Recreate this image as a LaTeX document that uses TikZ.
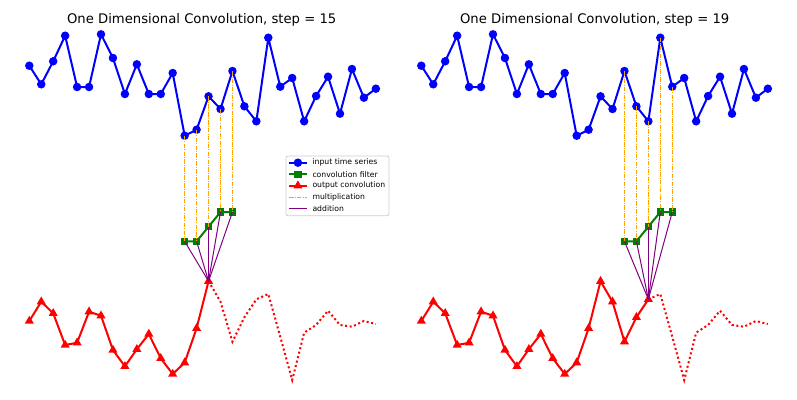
\documentclass[tikz,border=0pt]{standalone}
\usepackage{fontspec}
\setmainfont{DejaVu Sans}
\usetikzlibrary{shapes.geometric}
\definecolor{mblue}{HTML}{0000FF}
\definecolor{mgreen}{HTML}{008000}
\definecolor{mred}{HTML}{FF0000}
\definecolor{morange}{HTML}{FFA500}
\definecolor{mpurple}{HTML}{800080}
\definecolor{legframe}{HTML}{CCCCCC}
\tikzset{
  bluel/.style={draw=mblue,line width=2pt,line join=round},
  greenl/.style={draw=mgreen,line width=2pt,line join=round},
  redl/.style={draw=mred,line width=2pt,line join=round},
  redd/.style={draw=mred,line width=2pt,dash pattern=on 2pt off 2.6pt},
  orl/.style={draw=morange,line width=1pt,dash pattern=on 4.5pt off 1.2pt on 1pt off 1.2pt},
  pul/.style={draw=mpurple,line width=1pt},
  bdot/.style={circle,fill=mblue,inner sep=0pt,minimum size=8.5pt},
  gsq/.style={rectangle,fill=mgreen,inner sep=0pt,minimum size=7.5pt},
  rtri/.style={regular polygon,regular polygon sides=3,fill=mred,inner sep=0pt,minimum size=10.5pt},
  ttl/.style={font=\fontsize{13.2}{15}\selectfont,anchor=base},
  legt/.style={font=\fontsize{7.7}{9}\selectfont,anchor=west,inner sep=0pt},
}
\def\blueY{65.7,84.3,61.3,35.7,87,87,34.3,58,94,64.3,94,94,73,135.7,129.7,96.3,109,71,106.3,121.3,37.7,86.7,78,121.3,96,76.7,113.7,69,97.7,88.7}
\def\redY{321,301.7,313.3,345,342.7,311.7,315.7,350,366.3,349.3,334,358.3,374,362.7,328.3,281.2,301.7,341.7,317.3,299.3,294,336.7,380,332.7,325,310.7,325,326.7,321,324}
\def\filtY{241.3,241.3,226.7,212,212}
\newcommand\drawpanel[3]{%
  \pgfmathtruncatemacro\sA{#3-2}%
  \pgfmathtruncatemacro\sB{#3+1}%
  \foreach \yy [count=\i from 0] in \blueY {\coordinate (#1b\i) at ({#2+11.95*\i},\yy);}
  \foreach \yy [count=\i from 0] in \redY {\coordinate (#1r\i) at ({#2+11.95*\i},\yy);}
  \foreach \yy [count=\k from 0] in \filtY {\pgfmathtruncatemacro\j{\sA+\k}\coordinate (#1f\k) at ({#2+11.95*\j},\yy);}
  \draw[bluel] (#1b0) \foreach \i in {1,...,29}{-- (#1b\i)};
  \foreach \i in {0,...,29} \node[bdot] (#1bm\i) at (#1b\i) {};
  \draw[greenl] (#1f0) \foreach \k in {1,...,4}{-- (#1f\k)};
  \foreach \k in {0,...,4} \node[gsq] (#1fm\k) at (#1f\k) {};
  \draw[redl] (#1r0) \foreach \i in {1,...,#3}{-- (#1r\i)};
  \draw[redd] (#1r#3) \foreach \i in {\sB,...,29}{-- (#1r\i)};
  \foreach \i in {0,...,#3} \node[rtri] (#1rm\i) at (#1r\i) {};
  \foreach \k in {0,...,4}{\pgfmathtruncatemacro\j{\sA+\k}\draw[orl] (#1b\j) -- (#1f\k);}
  \foreach \k in {0,...,4}{\draw[pul] (#1f\k) -- (#1r#3);}
}
\begin{document}
\begin{tikzpicture}[x=1pt,y=-1pt]
\useasboundingbox (0,0) rectangle (797,399);
\node[ttl] (t1) at (201.7,23.3) {One Dimensional Convolution, step = 15};
\node[ttl] (t2) at (594.7,23.3) {One Dimensional Convolution, step = 19};
\drawpanel{L}{29.3}{15}
\drawpanel{R}{421.3}{19}
% legend
\draw[legframe,fill=white,rounded corners=2pt,line width=0.8pt] (286,156) rectangle (389,215.7);
\coordinate (la1) at (289,162.7); \coordinate (lb1) at (306.7,162.7);
\coordinate (la2) at (289,174.3); \coordinate (lb2) at (306.7,174.3);
\coordinate (la3) at (289,185.7); \coordinate (lb3) at (306.7,185.7);
\coordinate (la4) at (289,197);   \coordinate (lb4) at (306.7,197);
\coordinate (la5) at (289,208.3); \coordinate (lb5) at (306.7,208.3);
\draw[bluel] (la1) -- (lb1); \node[bdot] (lm1) at (297.9,162.7) {};
\draw[greenl] (la2) -- (lb2); \node[gsq] (lm2) at (297.9,174.3) {};
\draw[redl] (la3) -- (lb3); \node[rtri] (lm3) at (297.9,185.7) {};
\draw[orl] (la4) -- (lb4);
\draw[pul] (la5) -- (lb5);
\node[legt] (lt1) at (312.3,162.7) {input time series};
\node[legt] (lt2) at (312.3,174.3) {convolution filter};
\node[legt] (lt3) at (312.3,185.7) {output convolution};
\node[legt] (lt4) at (312.3,197) {multiplication};
\node[legt] (lt5) at (312.3,208.3) {addition};
\end{tikzpicture}
\end{document}
